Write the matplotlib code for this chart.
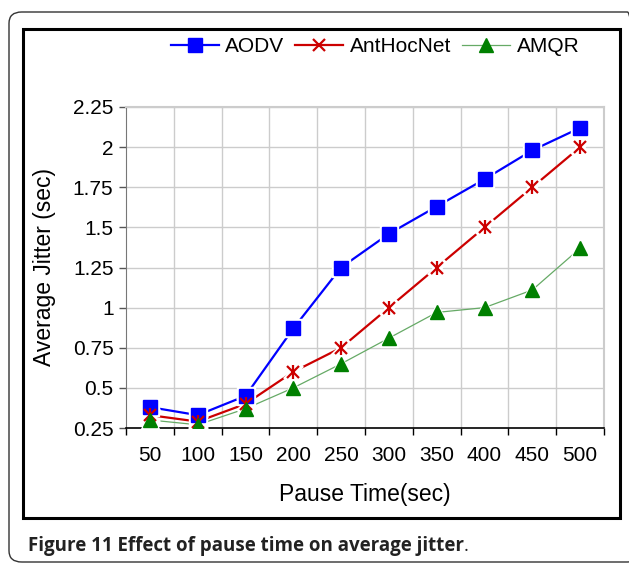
import matplotlib
matplotlib.use("Agg")
import matplotlib.pyplot as plt
from matplotlib.patches import Rectangle, FancyBboxPatch
from matplotlib.lines import Line2D

# ---- data ----
pause_times = ["50", "100", "150", "200", "250", "300", "350", "400", "450", "500"]
aodv = [0.38, 0.33, 0.45, 0.87, 1.25, 1.46, 1.63, 1.80, 1.98, 2.12]
anthocnet = [0.33, 0.29, 0.40, 0.60, 0.75, 1.00, 1.25, 1.50, 1.75, 2.00]
amqr = [0.30, 0.27, 0.37, 0.50, 0.65, 0.81, 0.97, 1.00, 1.11, 1.37]
y_ticks = [0.25, 0.5, 0.75, 1, 1.25, 1.5, 1.75, 2, 2.25]
y_tick_labels = ["0.25", "0.5", "0.75", "1", "1.25", "1.5", "1.75", "2", "2.25"]

W, H = 629, 565
fig = plt.figure(figsize=(W / 100, H / 100), dpi=100)
plt.rcParams['font.family'] = ['Liberation Sans', 'DejaVu Sans']

def fx(px):
    return px / W

def fy(py):
    return 1 - py / H

# outer rounded box and inner frame
outer = FancyBboxPatch((fx(9), fy(562)), fx(640) - fx(9), fy(12) - fy(562),
                       boxstyle="round,pad=0,rounding_size=0.02",
                       transform=fig.transFigure, fill=False, ec="#333333", lw=1.0)
fig.patches.append(outer)
inner = Rectangle((fx(23), fy(518)), fx(620) - fx(23), fy(29) - fy(518),
                  transform=fig.transFigure, fill=False, ec="black", lw=2.2)
fig.patches.append(inner)

ax = fig.add_axes([fx(126), fy(428), fx(604) - fx(126), fy(107) - fy(428)])
x = list(range(len(pause_times)))

# grid
for yv in y_ticks[1:]:
    ax.axhline(yv, color="#cccccc", lw=1.0, zorder=0)
for xv in range(1, len(pause_times) + 1):
    ax.axvline(xv - 0.5, color="#cccccc", lw=1.0, zorder=0)

blue = "#0000ff"
red = "#cc0000"
green_line = "#66aa66"
green_mk = "#008000"

# lines
ax.plot(x, aodv, color=blue, lw=1.6, zorder=2)
ax.plot(x, anthocnet, color=red, lw=1.6, zorder=2)
ax.plot(x, amqr, color=green_line, lw=0.9, zorder=2)

# white halos around markers
ax.plot(x, aodv, ls="none", marker="s", ms=12.5, mfc="white", mec="white", zorder=3)
ax.plot(x, anthocnet, ls="none", marker="x", ms=12, mec="white", mew=5, zorder=3)
ax.plot(x, anthocnet, ls="none", marker="|", ms=13, mec="white", mew=5, zorder=3)
ax.plot(x, amqr, ls="none", marker="^", ms=12.5, mfc="white", mec="white", zorder=3)

# markers
ax.plot(x, aodv, ls="none", marker="s", ms=9.5, mfc=blue, mec=blue, zorder=4)
ax.plot(x, anthocnet, ls="none", marker="x", ms=9, mec=red, mew=1.6, zorder=4)
ax.plot(x, anthocnet, ls="none", marker="|", ms=10.5, mec=red, mew=1.6, zorder=4)
ax.plot(x, amqr, ls="none", marker="^", ms=10, mfc=green_mk, mec=green_mk, zorder=5)

ax.set_xlim(-0.5, len(pause_times) - 0.5)
ax.set_ylim(0.25, 2.25)
ax.set_yticks(y_ticks)
ax.set_yticklabels(y_tick_labels)
ax.set_xticks([i - 0.5 for i in range(len(pause_times) + 1)])
ax.set_xticklabels([])
ax.set_xticks(x, minor=True)
ax.set_xticklabels(pause_times, minor=True)
ax.tick_params(axis="x", which="minor", length=0, pad=13, labelsize=15)
ax.tick_params(axis="x", which="major", direction="out", length=5, width=1, color="black")
ax.tick_params(axis="y", direction="out", length=5, width=1, color="#555555", labelsize=15, pad=4)

for s in ["top", "right"]:
    ax.spines[s].set_color("#cccccc")
    ax.spines[s].set_linewidth(1.5)
ax.spines["left"].set_color("#777777")
ax.spines["bottom"].set_color("black")
ax.spines["bottom"].set_linewidth(1.2)

fig.text(fx(45), fy(267), "Average Jitter (sec)", rotation=90, ha="center", va="center", fontsize=16.5)
fig.text(fx(365), fy(494), "Pause Time(sec)", ha="center", va="center", fontsize=16.5)

# legend
handles = [
    Line2D([], [], color=blue, lw=1.6, marker="s", ms=9.5, mfc=blue, mec=blue),
    Line2D([], [], color=red, lw=1.6, marker="x", ms=9, mec=red, mew=1.6),
    Line2D([], [], color=green_line, lw=0.9, marker="^", ms=10, mfc=green_mk, mec=green_mk),
]
fig.legend(handles, ["AODV", "AntHocNet", "AMQR"], ncol=3, frameon=False,
           loc="center", bbox_to_anchor=(fx(375), fy(47)), fontsize=15,
           handlelength=2.3, handletextpad=0.3, columnspacing=0.55)

cap = fig.text(fx(28), fy(546), "Figure 11 Effect of pause time on average jitter",
               family="Open Sans", fontweight="bold", fontsize=13.5, ha="left", va="center",
               color="#222222")
fig.canvas.draw()
bb = cap.get_window_extent()
fig.text(bb.x1 / W, fy(546), ".", family="Open Sans", fontsize=13.5, ha="left", va="center",
         color="#222222")

fig.savefig("out.png", dpi=100)
